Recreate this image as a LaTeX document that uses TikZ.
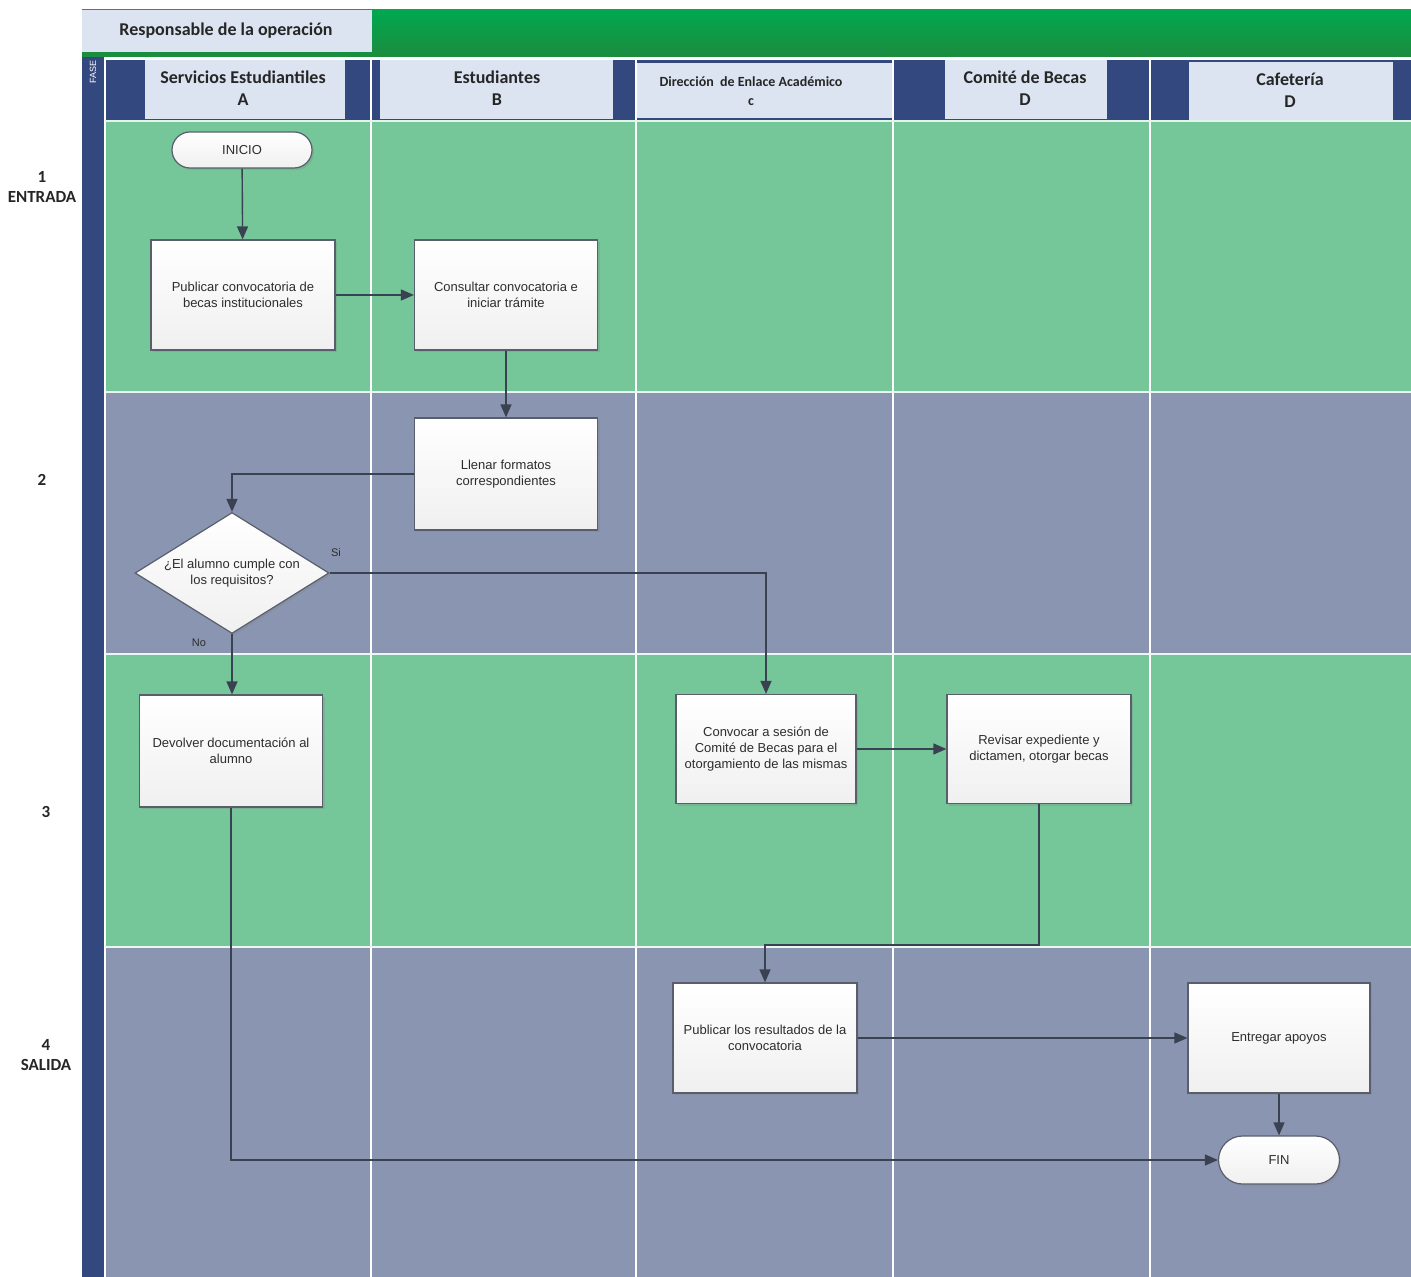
\documentclass[tikz,border=0pt]{standalone}
\usepackage{fontspec}
\setmainfont{Liberation Sans}
\newfontfamily\hdr{Carlito}
\usetikzlibrary{arrows.meta,shapes.geometric,shadows}
\definecolor{laneGreen}{RGB}{117,198,152}
\definecolor{laneGray}{RGB}{138,149,177}
\definecolor{darkBlue}{RGB}{52,72,128}
\definecolor{lightBlue}{RGB}{220,228,242}
\definecolor{hdrGreenTop}{RGB}{0,168,80}
\definecolor{hdrGreenBot}{RGB}{28,140,62}
\definecolor{lineCol}{RGB}{58,66,82}
\definecolor{txtCol}{RGB}{45,45,45}
\begin{document}
\begin{tikzpicture}[x=0.5pt,y=-0.5pt,
  box/.style={draw=lineCol!85, line width=0.6pt, top color=white, bottom color=gray!12,
    drop shadow={opacity=0.25,shadow xshift=1pt,shadow yshift=-1pt},
    font=\fontsize{6.5}{7.8}\selectfont, text=txtCol, align=center, inner sep=1pt},
  term/.style={box},
  decision/.style={diamond, aspect=1.6, draw=lineCol!85, line width=0.6pt, top color=white, bottom color=gray!12,
    drop shadow={opacity=0.25,shadow xshift=1pt,shadow yshift=-1pt},
    font=\fontsize{6.5}{7.8}\selectfont, text=txtCol, align=center, inner sep=0pt},
  arr/.style={draw=lineCol, line width=0.7pt, -{Triangle[length=6.5pt,width=5.5pt]}},
  hdrtxt/.style={font=\hdr\bfseries\fontsize{9}{11}\selectfont, text=black!85, align=center},
  rowlbl/.style={font=\hdr\bfseries\fontsize{8.5}{10}\selectfont, text=black!85, align=center},
  lbl/.style={font=\fontsize{5.5}{6}\selectfont, text=txtCol}
]
\useasboundingbox (0,0) rectangle (1411,1277);
\fill[white] (0,0) rectangle (1411,1277);

% top header
\shade[top color=hdrGreenTop, bottom color=hdrGreenBot] (82,10) rectangle (1411,57);
\fill[lightBlue] (82,10) rectangle (372,52);
\node[hdrtxt] (resp) at (226,31) {Responsable de la operación};

% left dark strip
\fill[darkBlue] (82,57) rectangle (104,1277);
\node[rotate=90, font=\fontsize{4.5}{5}\selectfont, text=white] (fase) at (93,72) {FASE};

% rows
\fill[laneGreen] (105,121) rectangle (1411,392);
\fill[laneGray]  (105,392) rectangle (1411,654);
\fill[laneGreen] (105,654) rectangle (1411,947);
\fill[laneGray]  (105,947) rectangle (1411,1277);

% column headers
\fill[darkBlue] (105,60) rectangle (1411,121);
\fill[lightBlue] (145,60) rectangle (345,119);
\fill[lightBlue] (380,60) rectangle (613,119);
\fill[lightBlue] (637,63) rectangle (893,118);
\fill[lightBlue] (945,60) rectangle (1107,119);
\fill[lightBlue] (1189,62) rectangle (1393,122);
\fill[white] (104,57) rectangle (1411,60);

% separators
\draw[white, line width=1pt] (105,57) -- (105,1277);
\foreach \xx in {371,636,893,1150} \draw[white, line width=1pt] (\xx,57) -- (\xx,1277);
\foreach \yy in {392,654,947} \draw[white!85!laneGreen, line width=1.3pt] (105,\yy) -- (1411,\yy);
\draw[white!80!laneGreen, line width=0.6pt] (105,121) -- (1411,121);

% header texts
\node[hdrtxt] (hA) at (243,88) {Servicios Estudiantiles\\A};
\node[hdrtxt] (hB) at (497,88) {Estudiantes\\B};
\node[hdrtxt, font=\hdr\bfseries\fontsize{7}{9.5}\selectfont] (hC) at (751,91) {Dirección\ \ de\ Enlace\ Académico\\c};
\node[hdrtxt] (hD) at (1025,88) {Comité de Becas\\D};
\node[hdrtxt] (hE) at (1290,90) {Cafetería\\D};

% row labels
\node[rowlbl] (r1) at (42,187) {1\\ENTRADA};
\node[rowlbl] (r2) at (42,480) {2};
\node[rowlbl] (r3) at (46,812) {3};
\node[rowlbl] (r4) at (46,1055) {4\\SALIDA};

% nodes
\node[term, rounded corners=9pt, minimum width=70pt, minimum height=18pt] (ini) at (242,150) {INICIO};
\node[box, minimum width=92pt, minimum height=55pt] (pub) at (243,295) {Publicar convocatoria de\\becas institucionales};
\node[box, minimum width=91.5pt, minimum height=55pt] (cons) at (506,295) {Consultar convocatoria e\\iniciar trámite};
\node[box, minimum width=91.5pt, minimum height=56pt] (llen) at (506,474) {Llenar formatos\\correspondientes};
\node[decision, minimum width=97pt, minimum height=60.5pt] (dia) at (232,573) {¿El alumno cumple con\\los requisitos?};
\node[box, minimum width=91.5pt, minimum height=56pt] (dev) at (231,751) {Devolver documentación al\\alumno};
\node[box, minimum width=90pt, minimum height=54.5pt] (conv) at (766,749) {Convocar a sesión de\\Comité de Becas para el\\otorgamiento de las mismas};
\node[box, minimum width=92pt, minimum height=54.5pt] (rev) at (1039,749) {Revisar expediente y\\dictamen, otorgar becas};
\node[box, minimum width=92pt, minimum height=55pt] (pubr) at (765,1038) {Publicar los resultados de la\\convocatoria};
\node[box, minimum width=91pt, minimum height=55pt] (ent) at (1279,1038) {Entregar apoyos};
\node[term, rounded corners=12pt, minimum width=60.5pt, minimum height=24pt] (fin) at (1279,1160) {FIN};

% connectors
\draw[arr] (ini) -- (pub);
\draw[arr] (pub) -- (cons);
\draw[arr] (cons) -- (llen);
\draw[arr] (llen.west) -| (dia.north);
\draw[arr] (dia.east) -| (conv.north);
\draw[arr] (dia.south) -- (dia.south |- dev.north);
\draw[arr] (conv) -- (rev);
\coordinate (bend) at (1039,945);
\draw[arr] (rev.south) -- (bend) -| (pubr.north);
\draw[arr] (pubr) -- (ent);
\draw[arr] (ent) -- (fin);
\draw[arr] (dev.south) |- (fin.west);

% labels
\node[lbl] (si) at (336,553) {Si};
\node[lbl] (no) at (199,643) {No};
\end{tikzpicture}
\end{document}
